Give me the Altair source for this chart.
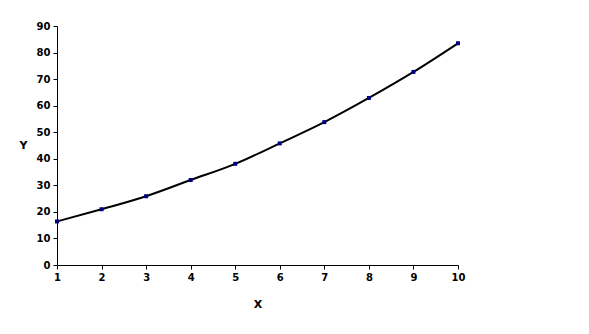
import altair as alt
import pandas as pd

xs = [1, 2, 3, 4, 5, 6, 7, 8, 9, 10]
ys = [16.4, 21.0, 25.9, 32.0, 38.1, 45.8, 53.8, 62.9, 72.7, 83.5]
yticks = [0, 10, 20, 30, 40, 50, 60, 70, 80, 90]

df = pd.DataFrame({"X": xs, "Y": ys})

font = "DejaVu Sans"

x_enc = alt.X("X:Q", scale=alt.Scale(domain=[1, 10], nice=False, zero=False),
              axis=alt.Axis(values=xs, title="X", format="d", grid=False, ticks=True,
                            tickSize=4, titlePadding=16, labelOverlap=False,
                            labelFlush=False))
y_enc = alt.Y("Y:Q", scale=alt.Scale(domain=[0, 90], nice=False),
              axis=alt.Axis(values=yticks, title="Y", grid=False, labelOverlap=False,
                            ticks=True, tickSize=4, labelFlush=False,
                            titleAngle=0, titleAlign="right", titleBaseline="middle",
                            titlePadding=9))

base = alt.Chart(df).encode(x=x_enc, y=y_enc)
line = base.mark_line(color="black", strokeWidth=2, interpolate="monotone")
pts = base.mark_point(shape="square", filled=True, color="#000080", size=16, opacity=1)

chart = alt.layer(line, pts).properties(
    width=401, height=239,
    background="white",
    autosize=alt.AutoSizeParams(type="none"),
    padding={"left": 57, "top": 26, "right": 131, "bottom": 69},
).configure_view(stroke=None).configure_axis(
    domainColor="black", tickColor="black", domainWidth=1,
    labelFont=font, labelFontWeight="bold", labelFontSize=10, labelColor="black",
    titleFont=font, titleFontWeight="bold", titleFontSize=11, titleColor="black",
    labelPadding=3,
)

chart.save("out.html", embed_options={"renderer": "svg", "actions": False})
